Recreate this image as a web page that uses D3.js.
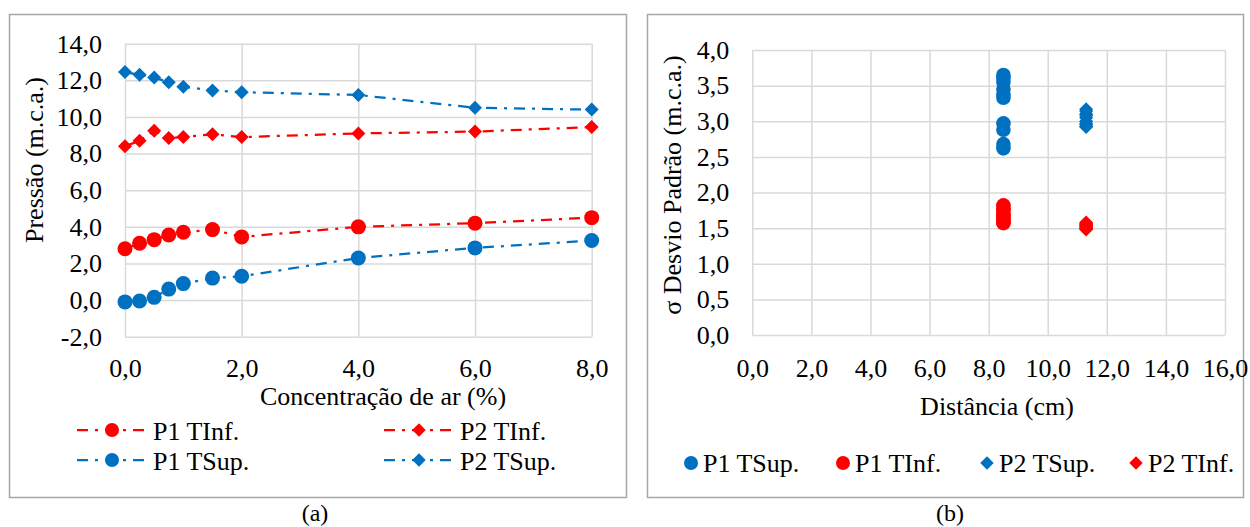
<!DOCTYPE html>
<html lang="pt">
<head>
<meta charset="UTF-8">
<title>Pressão e desvio padrão</title>
<script src="https://cdn.jsdelivr.net/npm/d3@7"></script>
<style>
  body { margin: 0; background: #fff; }
  svg { display: block; font-family: "Liberation Serif", "Times New Roman", serif; }
  .grid line { stroke: #d9d9d9; stroke-width: 1.5; }
  .grid path { display: none; }
  .ax path, .ax line { display: none; }
  .ax text { font-size: 26px; fill: #000; font-family: "Liberation Serif", "Times New Roman", serif; }
</style>
</head>
<body>
<svg id="chart" width="1250" height="527"></svg>
<script>
// ---- dados (a) ----
const concAr = [0, 0.25, 0.5, 0.75, 1, 1.5, 2, 4, 6, 8];
const p1TInf = [2.8, 3.1, 3.3, 3.55, 3.7, 3.85, 3.45, 4.0, 4.2, 4.5];
const p2TInf = [8.4, 8.7, 9.25, 8.85, 8.9, 9.05, 8.9, 9.1, 9.2, 9.45];
const p1TSup = [-0.1, -0.05, 0.15, 0.6, 0.9, 1.2, 1.3, 2.3, 2.85, 3.25];
const p2TSup = [12.45, 12.3, 12.15, 11.9, 11.65, 11.45, 11.35, 11.2, 10.5, 10.4];
const ticksA_x = [0, 2, 4, 6, 8];
const ticksA_y = [-2, 0, 2, 4, 6, 8, 10, 12, 14];

// ---- dados (b) ----
const distP1 = 8.5, distP2 = 11.3;
const sdP1TSup = [3.65, 3.6, 3.55, 3.45, 3.38, 3.33, 2.97, 2.88, 2.68, 2.62];
const sdP1TInf = [1.82, 1.78, 1.75, 1.7, 1.68, 1.65, 1.62, 1.6, 1.58, 1.57];
const sdP2TSup = [3.17, 3.14, 3.1, 3.08, 3.05, 3.0, 2.97, 2.95, 2.93, 2.92];
const sdP2TInf = [1.58, 1.56, 1.54, 1.52, 1.5, 1.49, 1.48, 1.5, 1.53, 1.55];
const ticksB_x = [0, 2, 4, 6, 8, 10, 12, 14, 16];
const ticksB_y = [0, 0.5, 1, 1.5, 2, 2.5, 3, 3.5, 4];

const BLUE = '#0070c0', RED = '#ff0000';
// formato pt-BR: virgula decimal e hifen simples
const fmt = d => d3.format('.1f')(d).replace('.', ',').replace('\u2212', '-');
const dash = '11,7,3,7';

const svg = d3.select('#chart');
const diamond = d3.symbol().type(d3.symbolSquare).size(98);
const diamondSm = d3.symbol().type(d3.symbolSquare).size(90);

// molduras
svg.append('rect').attr('x', 9.5).attr('y', 14.5).attr('width', 617).attr('height', 483)
  .attr('fill', 'none').attr('stroke', '#a6a6a6').attr('stroke-width', 1.5);
svg.append('rect').attr('x', 647.5).attr('y', 14.5).attr('width', 596).attr('height', 483)
  .attr('fill', 'none').attr('stroke', '#a6a6a6').attr('stroke-width', 1.5);

// ================= (a) =================
const xA = d3.scaleLinear().domain([0, 8]).range([125, 591.7]);
const yA = d3.scaleLinear().domain([-2, 14]).range([336.7, 43.7]);
const gA = svg.append('g');

gA.append('g').attr('class', 'grid').attr('transform', 'translate(0,336.7)')
  .call(d3.axisBottom(xA).tickValues(ticksA_x).tickSize(-(336.7 - 43.7)).tickFormat(''));
gA.append('g').attr('class', 'grid').attr('transform', 'translate(125,0)')
  .call(d3.axisLeft(yA).tickValues(ticksA_y).tickSize(-(591.7 - 125)).tickFormat(''));

gA.append('g').attr('class', 'ax').attr('transform', 'translate(0,336.7)')
  .call(d3.axisBottom(xA).tickValues(ticksA_x).tickSize(0).tickPadding(22).tickFormat(fmt));
gA.append('g').attr('class', 'ax').attr('transform', 'translate(125,0)')
  .call(d3.axisLeft(yA).tickValues(ticksA_y).tickSize(0).tickPadding(23).tickFormat(fmt));

const seriesA = [
  { vals: p2TSup, color: BLUE, shape: 'd' },
  { vals: p2TInf, color: RED, shape: 'd' },
  { vals: p1TInf, color: RED, shape: 'c' },
  { vals: p1TSup, color: BLUE, shape: 'c' }
];
const line = d3.line().x((d, i) => xA(concAr[i])).y(d => yA(d));
seriesA.forEach(s => {
  gA.append('path').attr('d', line(s.vals)).attr('fill', 'none')
    .attr('stroke', s.color).attr('stroke-width', 2.25).attr('stroke-dasharray', dash);
  const pts = gA.append('g').selectAll('.m').data(s.vals).enter();
  if (s.shape === 'c') {
    pts.append('circle').attr('cx', (d, i) => xA(concAr[i])).attr('cy', d => yA(d))
      .attr('r', 7.5).attr('fill', s.color);
  } else {
    pts.append('path').attr('d', diamond)
      .attr('transform', (d, i) => `translate(${xA(concAr[i])},${yA(d)}) rotate(45)`)
      .attr('fill', s.color);
  }
});

gA.append('text').attr('x', 383).attr('y', 405).attr('text-anchor', 'middle')
  .attr('font-size', 26).text('Concentração de ar (%)');
gA.append('text').attr('transform', 'translate(43,160) rotate(-90)').attr('text-anchor', 'middle')
  .attr('font-size', 26).text('Pressão (m.c.a.)');

// legenda (a)
const legA = [
  { name: 'P1 TInf.', color: RED, shape: 'c', x: 112, y: 430 },
  { name: 'P2 TInf.', color: RED, shape: 'd', x: 419, y: 430 },
  { name: 'P1 TSup.', color: BLUE, shape: 'c', x: 112, y: 460 },
  { name: 'P2 TSup.', color: BLUE, shape: 'd', x: 419, y: 460 }
];
legA.forEach(l => {
  const g = gA.append('g').attr('transform', `translate(${l.x},${l.y})`);
  g.append('line').attr('x1', -35).attr('x2', 35).attr('stroke', l.color)
    .attr('stroke-width', 2.25).attr('stroke-dasharray', dash);
  if (l.shape === 'c') g.append('circle').attr('r', 7).attr('fill', l.color);
  else g.append('path').attr('d', diamondSm).attr('transform', 'rotate(45)').attr('fill', l.color);
  g.append('text').attr('x', 41).attr('y', 9.5).attr('font-size', 26).text(l.name);
});

svg.append('text').attr('x', 315).attr('y', 521).attr('text-anchor', 'middle')
  .attr('font-size', 24).text('(a)');

// ================= (b) =================
const xB = d3.scaleLinear().domain([0, 16]).range([752.3, 1225]);
const yB = d3.scaleLinear().domain([0, 4]).range([335, 50]);
const gB = svg.append('g');

gB.append('g').attr('class', 'grid').attr('transform', 'translate(0,335)')
  .call(d3.axisBottom(xB).tickValues(ticksB_x).tickSize(-(335 - 50)).tickFormat(''));
gB.append('g').attr('class', 'grid').attr('transform', 'translate(752.3,0)')
  .call(d3.axisLeft(yB).tickValues(ticksB_y).tickSize(-(1225 - 752.3)).tickFormat(''));

gB.append('g').attr('class', 'ax').attr('transform', 'translate(0,335)')
  .call(d3.axisBottom(xB).tickValues(ticksB_x).tickSize(0).tickPadding(23.5).tickFormat(fmt));
gB.append('g').attr('class', 'ax').attr('transform', 'translate(752.3,0)')
  .call(d3.axisLeft(yB).tickValues(ticksB_y).tickSize(0).tickPadding(23).tickFormat(fmt));

const seriesB = [
  { x: distP1, vals: sdP1TSup, color: BLUE, shape: 'c' },
  { x: distP1, vals: sdP1TInf, color: RED, shape: 'c' },
  { x: distP2, vals: sdP2TSup, color: BLUE, shape: 'd' },
  { x: distP2, vals: sdP2TInf, color: RED, shape: 'd' }
];
seriesB.forEach(s => {
  const pts = gB.append('g').selectAll('.m').data(s.vals).enter();
  if (s.shape === 'c') {
    pts.append('circle').attr('cx', xB(s.x)).attr('cy', d => yB(d)).attr('r', 7.3).attr('fill', s.color);
  } else {
    pts.append('path').attr('d', diamond)
      .attr('transform', d => `translate(${xB(s.x)},${yB(d)}) rotate(45)`).attr('fill', s.color);
  }
});

gB.append('text').attr('x', 997).attr('y', 415).attr('text-anchor', 'middle')
  .attr('font-size', 26).text('Distância (cm)');
gB.append('text').attr('transform', 'translate(681,185) rotate(-90)').attr('text-anchor', 'middle')
  .attr('font-size', 26).text('σ Desvio Padrão (m.c.a.)');

const legB = [
  { name: 'P1 TSup.', color: BLUE, shape: 'c', x: 691 },
  { name: 'P1 TInf.', color: RED, shape: 'c', x: 843 },
  { name: 'P2 TSup.', color: BLUE, shape: 'd', x: 987 },
  { name: 'P2 TInf.', color: RED, shape: 'd', x: 1136 }
];
legB.forEach(l => {
  const g = gB.append('g').attr('transform', `translate(${l.x},463)`);
  if (l.shape === 'c') g.append('circle').attr('r', 7).attr('fill', l.color);
  else g.append('path').attr('d', diamondSm).attr('transform', 'rotate(45)').attr('fill', l.color);
  g.append('text').attr('x', 12).attr('y', 8.5).attr('font-size', 26).text(l.name);
});

svg.append('text').attr('x', 950).attr('y', 521).attr('text-anchor', 'middle')
  .attr('font-size', 24).text('(b)');
</script>
</body>
</html>
